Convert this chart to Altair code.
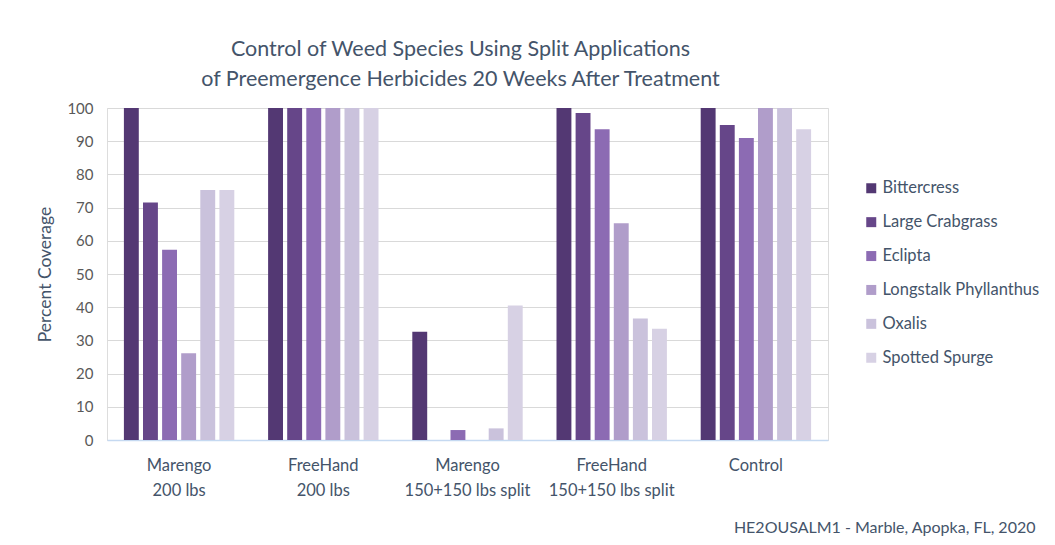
import altair as alt
import pandas as pd

treatments = ["Marengo|200 lbs", "FreeHand|200 lbs", "Marengo|150+150 lbs split",
              "FreeHand|150+150 lbs split", "Control"]
species = ["Bittercress", "Large Crabgrass", "Eclipta", "Longstalk Phyllanthus",
           "Oxalis", "Spotted Spurge"]
colors = ["#533873", "#664689", "#8c6bb3", "#b09dca", "#cac2dc", "#d7d1e4"]

bittercress = [100, 100, 32.6, 100, 100]
large_crabgrass = [71.5, 100, 0, 98.5, 94.9]
eclipta = [57.3, 100, 3.0, 93.6, 91.0]
longstalk_phyllanthus = [26.1, 100, 0, 65.3, 100]
oxalis = [75.3, 100, 3.5, 36.6, 100]
spotted_spurge = [75.3, 100, 40.5, 33.5, 93.6]

series = [bittercress, large_crabgrass, eclipta, longstalk_phyllanthus, oxalis, spotted_spurge]
rows = []
for sp, vals in zip(species, series):
    for t, v in zip(treatments, vals):
        rows.append({"Treatment": t, "Species": sp, "Value": v})
df = pd.DataFrame(rows)

FONT = "Lato"
TXT = "#44546a"

bars = alt.Chart(df).mark_bar().encode(
    x=alt.X("Treatment:N", sort=treatments,
            scale=alt.Scale(paddingInner=0, paddingOuter=0),
            axis=alt.Axis(title="HE2OUSALM1 - Marble, Apopka, FL, 2020",
                          titleX=928, titleY=92, titleAlign="right", titleAnchor="start",
                          titleFontSize=16, titleFontWeight="normal", titleColor=TXT,
                          titleFont=FONT, titleBaseline="alphabetic",
                          labelAngle=0, labelExpr="split(datum.value, '|')",
                          labelFontSize=16.5, labelColor=TXT, labelFont=FONT,
                          labelPadding=17, labelLineHeight=25,
                          ticks=False, domainColor="#c5d9f1", domainWidth=1.5,
                          grid=False)),
    xOffset=alt.XOffset("Species:N", sort=species,
                        scale=alt.Scale(paddingInner=0.22, paddingOuter=0.885)),
    y=alt.Y("Value:Q", scale=alt.Scale(domain=[0, 100], nice=False),
            axis=alt.Axis(title="Percent Coverage", values=list(range(0, 101, 10)),
                          titleFontSize=17.5, titleFontWeight="normal", titleColor=TXT,
                          titleFont=FONT, titlePadding=12,
                          labelFontSize=15, labelColor="#595959", labelFont=FONT,
                          labelPadding=14, ticks=False, domain=False,
                          gridColor="#d9d9d9", gridWidth=1.2)),
    color=alt.Color("Species:N", sort=species,
                    scale=alt.Scale(domain=species, range=colors),
                    legend=alt.Legend(title=None, orient="none", legendX=756, legendY=72,
                                      symbolType="square", symbolSize=100,
                                      symbolStrokeWidth=0, labelLimit=300,
                                      labelFontSize=16.5, labelColor=TXT, labelFont=FONT,
                                      rowPadding=16.9, labelOffset=3)),
).properties(
    width=721, height=332,
    title=alt.Title(["Control of Weed Species Using Split Applications",
                     "of Preemergence Herbicides 20 Weeks After Treatment"],
                    fontSize=21.5, fontWeight="normal", color=TXT, font=FONT,
                    lineHeight=30, offset=11, frame="group", anchor="middle", dx=-7),
    autosize=alt.AutoSizeParams(type="none"),
    padding={"left": 99, "top": 100, "right": 219, "bottom": 97},
).configure_view(stroke=None).configure(background="white")

chart = bars
chart.save("out.html", embed_options={"renderer": "svg", "actions": False})
